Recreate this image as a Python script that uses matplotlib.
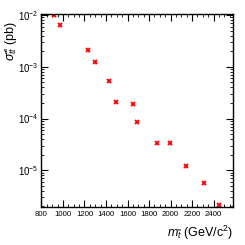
import matplotlib
matplotlib.use("Agg")
import matplotlib.pyplot as plt
from matplotlib.ticker import MultipleLocator, LogLocator, NullFormatter
import numpy as np

plt.rcParams['font.family'] = ['Liberation Sans', 'DejaVu Sans']
plt.rcParams['mathtext.fontset'] = 'custom'
plt.rcParams['mathtext.rm'] = 'Liberation Sans'
plt.rcParams['mathtext.it'] = 'Liberation Sans:italic'

# stop mass (GeV/c^2) and cross section (pb)
mass = [920, 970, 1235, 1300, 1428, 1497, 1655, 1690, 1876, 1993, 2144, 2312, 2447]
xsec = [9.9e-3, 6.5e-3, 2.07e-3, 1.25e-3, 5.4e-4, 2.07e-4, 1.89e-4, 8.4e-5,
        3.4e-5, 3.4e-5, 1.21e-5, 5.6e-6, 2.1e-6]
xsec_err = [v * 0.08 for v in xsec]

fig = plt.figure(figsize=(2.45, 2.45), dpi=100)
ax = fig.add_axes([0.167, 0.155, 0.784, 0.788])

ax.errorbar(mass, xsec, yerr=xsec_err, xerr=8, fmt='none', ecolor='#ff8080', elinewidth=0.8)
ax.plot(mass, xsec, ls='none', marker='x', ms=3.2, mew=1.3, color='red')

ax.set_yscale('log')
ax.set_xlim(795, 2580)
ax.set_ylim(1.95e-6, 1.05e-2)

ax.xaxis.set_major_locator(MultipleLocator(200))
ax.xaxis.set_minor_locator(MultipleLocator(50))
ax.yaxis.set_major_locator(LogLocator(base=10, numticks=10))
ax.yaxis.set_minor_locator(LogLocator(base=10, subs=np.arange(2, 10), numticks=10))
ax.yaxis.set_minor_formatter(NullFormatter())

ax.tick_params(which='both', direction='in', top=True, right=True, pad=2)
ax.tick_params(axis='x', labelsize=5.6, pad=3)
ax.tick_params(axis='y', labelsize=7)
ax.tick_params(which='major', length=5, width=0.8)
ax.tick_params(which='minor', length=2.5, width=0.6)
for s in ax.spines.values():
    s.set_linewidth(1.0)

fig.text(0.012, 0.915, r'$\sigma_{\tilde{t}\bar{\tilde{t}}}$ (pb)', fontsize=9,
         rotation=90, ha='left', va='top')
ax.set_xlabel(r'$m_{\tilde{t}}$ (GeV/c$^2$)', fontsize=9, loc='right', labelpad=4)

fig.savefig('out.png', dpi=100)
